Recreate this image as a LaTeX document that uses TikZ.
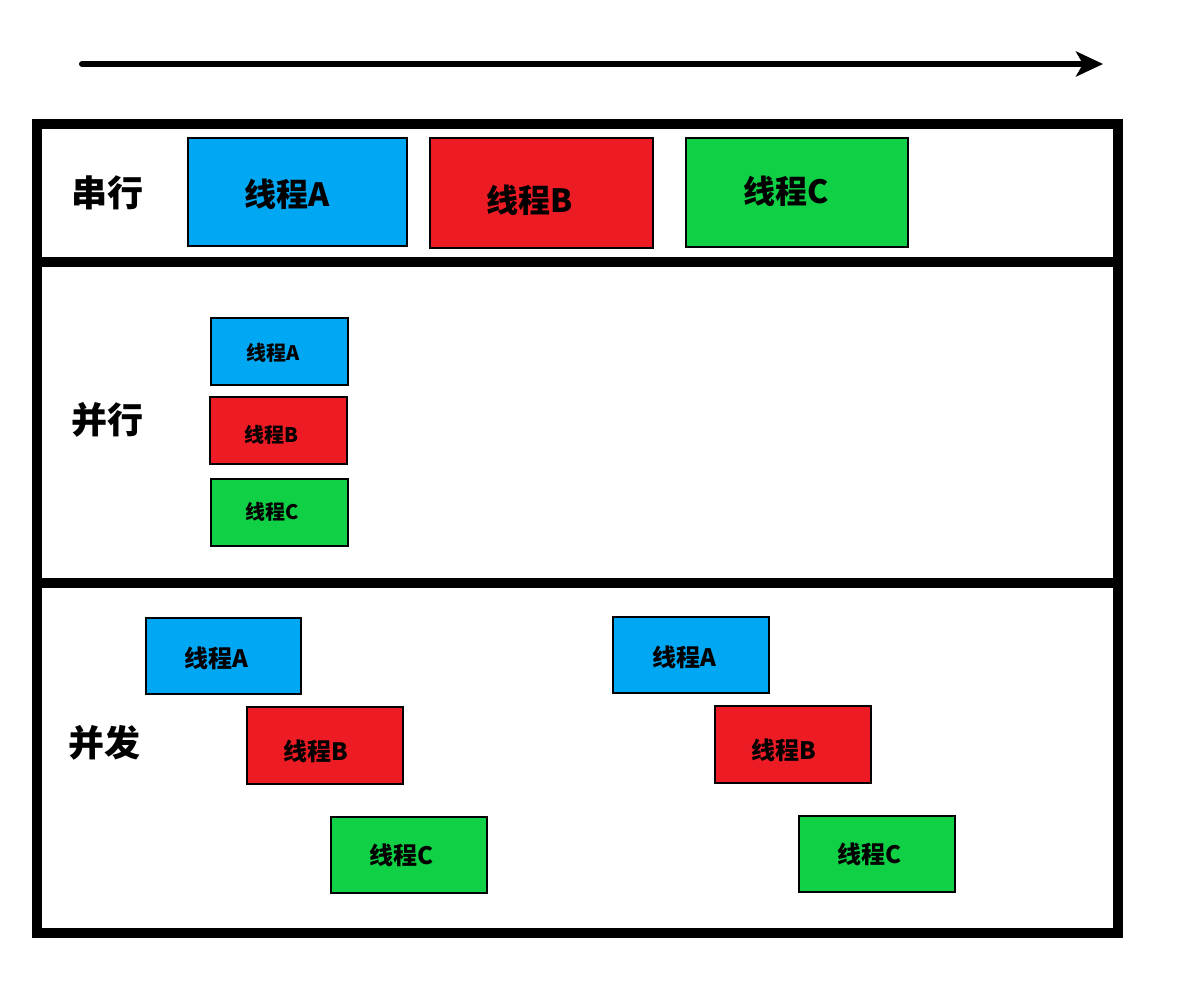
\documentclass[tikz,border=0pt]{standalone}
\usepackage{fontspec}
\setmainfont{Noto Sans CJK SC}
\usetikzlibrary{arrows.meta}
\definecolor{tblue}{RGB}{0,168,243}
\definecolor{tred}{RGB}{237,28,36}
\definecolor{tgreen}{RGB}{16,208,69}
\tikzset{
  tbox/.style={draw=black, line width=2pt, inner sep=0pt},
  lbl/.style={font=\fontsize{36}{40}\selectfont\bfseries, inner sep=0pt},
  tbig/.style={font=\fontsize{32}{36}\selectfont\bfseries, inner sep=0pt},
  tsmall/.style={font=\fontsize{20}{24}\selectfont\bfseries, inner sep=0pt},
  tmid/.style={font=\fontsize{24}{28}\selectfont\bfseries, inner sep=0pt},
  frame/.style={line width=10pt},
}
\newcommand{\tb}[6]{% name, x1,y1,x2,y2, color
  \path[tbox, fill=#6] (#2,#3) rectangle (#4,#5);
  \coordinate (#1) at ($(#2,#3)!0.5!(#4,#5)$);
}
\usetikzlibrary{calc}
\begin{document}
\begin{tikzpicture}[x=1pt,y=-1pt]
\useasboundingbox (0,0) rectangle (1190,995);
% time arrow
\coordinate (t0) at (82,64);
\coordinate (t1) at (1103,64);
\draw[line width=6pt, line cap=round, -{Stealth[length=27pt,width=25pt,inset=7pt]}] (t0) -- (t1);
% frame
\draw[frame] (37,124) rectangle (1118,933);
\draw[frame] (37,262) -- (1118,262);
\draw[frame] (37,583) -- (1118,583);
% row labels
\node[lbl] (l1) at (107,193) {串行};
\node[lbl] (l2) at (107,420) {并行};
\node[lbl] (l3) at (104,743) {并发};
% serial
\node[tbox, fill=tblue, minimum width=219pt, minimum height=108pt] (sA) at (297.5,192) {};
\node[tbox, fill=tred, minimum width=223pt, minimum height=110pt] (sB) at (541.5,193) {};
\node[tbox, fill=tgreen, minimum width=222pt, minimum height=109pt] (sC) at (797,192.5) {};
\node[tbig] (sAt) at (287,194) {线程A};
\node[tbig] (sBt) at (530,200) {线程B};
\node[tbig] (sCt) at (786,191) {线程C};
% parallel
\node[tbox, fill=tblue, minimum width=137pt, minimum height=67pt] (pA) at (279.5,351.5) {};
\node[tbox, fill=tred, minimum width=137pt, minimum height=67pt] (pB) at (278.5,430.5) {};
\node[tbox, fill=tgreen, minimum width=137pt, minimum height=67pt] (pC) at (279.5,512.5) {};
\node[tsmall] (pAt) at (273,353) {线程A};
\node[tsmall] (pBt) at (271,435) {线程B};
\node[tsmall] (pCt) at (272,512) {线程C};
% concurrent 1
\node[tbox, fill=tblue, minimum width=155pt, minimum height=76pt] (cA1) at (223.5,656) {};
\node[tbox, fill=tred, minimum width=156pt, minimum height=77pt] (cB1) at (325,745.5) {};
\node[tbox, fill=tgreen, minimum width=156pt, minimum height=76pt] (cC1) at (409,855) {};
\node[tmid] (cA1t) at (216,658) {线程A};
\node[tmid] (cB1t) at (316,751) {线程B};
\node[tmid] (cC1t) at (401,855) {线程C};
% concurrent 2
\node[tbox, fill=tblue, minimum width=156pt, minimum height=76pt] (cA2) at (691,655) {};
\node[tbox, fill=tred, minimum width=156pt, minimum height=77pt] (cB2) at (793,744.5) {};
\node[tbox, fill=tgreen, minimum width=156pt, minimum height=76pt] (cC2) at (877,854) {};
\node[tmid] (cA2t) at (684,657) {线程A};
\node[tmid] (cB2t) at (784,750) {线程B};
\node[tmid] (cC2t) at (869,854) {线程C};
\end{tikzpicture}
\end{document}
